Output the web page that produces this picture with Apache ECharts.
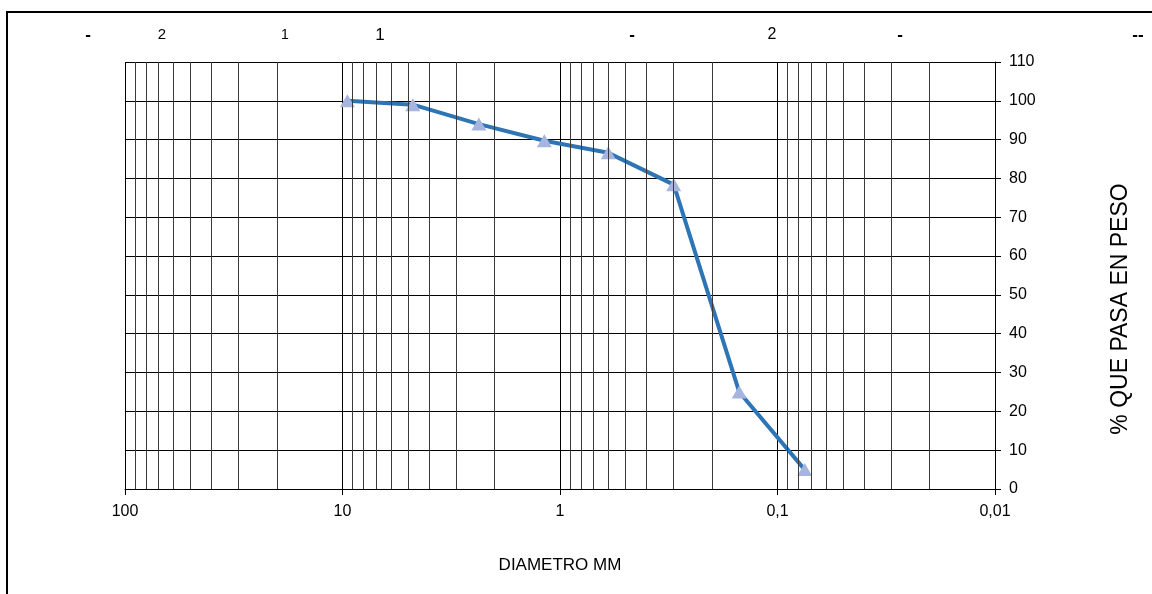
<!DOCTYPE html>
<html>
<head>
<meta charset="utf-8">
<script src="https://cdn.jsdelivr.net/npm/echarts@6/dist/echarts.min.js"></script>
<style>
  html, body { margin: 0; padding: 0; background: #fff; }
  #chart { width: 1152px; height: 594px; }
</style>
</head>
<body>
<div id="chart"></div>
<script>
// diametro de tamiz (mm) y % que pasa
const diametros = [9.5, 4.75, 2.36, 1.18, 0.6, 0.3, 0.15, 0.075]
const pasa = [100, 99, 94, 89.7, 86.6, 78.4, 25, 5]

// lineas menores de la grilla logaritmica (2..9 x 10^k)
const minorVals = []
;[0.01, 0.1, 1, 10].forEach(d => {
  for (let m = 2; m <= 9; m++) minorVals.push(+(m * d).toPrecision(3))
})

// textos superiores
const topLabels = ['-', '2', '1', '1', '-', '2', '-', '--']
const topLabelX = [88, 162, 285, 380, 632, 772, 900, 1138]
const topLabelSize = [17, 15, 14, 17, 17, 16, 17, 17]

const font = 'Liberation Sans, Arial, sans-serif'

const chart = echarts.init(document.getElementById('chart'))

const graphics = [
  {
    type: 'rect',
    shape: { x: 7, y: 12, width: 1300, height: 700 },
    style: { fill: 'none', stroke: '#000', lineWidth: 2 },
    silent: true
  },
  {
    type: 'text',
    x: 1121,
    y: 309,
    rotation: Math.PI / 2,
    style: {
      text: '% QUE PASA EN PESO',
      font: '23px ' + font,
      fill: '#000',
      align: 'center',
      verticalAlign: 'middle'
    }
  }
]
topLabels.forEach((t, i) => {
  graphics.push({
    type: 'text',
    x: topLabelX[i],
    y: 35,
    style: {
      text: t,
      font: (t.indexOf('-') >= 0 ? 'bold ' : '') + topLabelSize[i] + 'px ' + font,
      fill: '#000',
      align: 'center',
      verticalAlign: 'middle'
    }
  })
})

const option = {
  animation: false,
  graphic: graphics,
  grid: { left: 125, right: 157, top: 62, bottom: 105 },
  xAxis: {
    type: 'log',
    logBase: 10,
    min: 0.01,
    max: 100,
    inverse: true,
    name: 'DIAMETRO MM',
    nameLocation: 'middle',
    nameGap: 68,
    nameTextStyle: { fontSize: 17, color: '#000', fontFamily: font },
    axisLine: { show: true, lineStyle: { color: '#000', width: 1 } },
    axisTick: { show: true, length: 6, lineStyle: { color: '#000' } },
    axisLabel: {
      color: '#000',
      fontSize: 16,
      fontFamily: font,
      margin: 15,
      formatter: v => String(v).replace('.', ',')
    },
    splitLine: { show: true, lineStyle: { color: '#000', width: 1 } }
  },
  yAxis: {
    type: 'value',
    position: 'right',
    min: 0,
    max: 110,
    interval: 10,
    axisLine: { show: true, lineStyle: { color: '#000', width: 1 } },
    axisTick: { show: true, length: 6, lineStyle: { color: '#000' } },
    axisLabel: { color: '#000', fontSize: 16, fontFamily: font, margin: 14 },
    splitLine: { show: true, lineStyle: { color: '#000', width: 1 } }
  },
  series: [
    {
      name: 'grilla',
      type: 'line',
      data: [],
      z: 1,
      silent: true,
      markLine: {
        silent: true,
        symbol: ['none', 'none'],
        label: { show: false },
        emphasis: { disabled: true },
        lineStyle: { color: '#3a3a3a', type: 'solid', width: 1 },
        data: minorVals.map(v => ({ xAxis: v }))
      }
    },
    {
      name: 'granulometria',
      type: 'line',
      z: 3,
      data: diametros.map((d, i) => [d, pasa[i]]),
      symbol: 'triangle',
      symbolSize: [15, 13],
      itemStyle: { color: '#A7B4DD' },
      lineStyle: { color: '#2E75B6', width: 4 }
    }
  ]
}
chart.setOption(option)
</script>
</body>
</html>
